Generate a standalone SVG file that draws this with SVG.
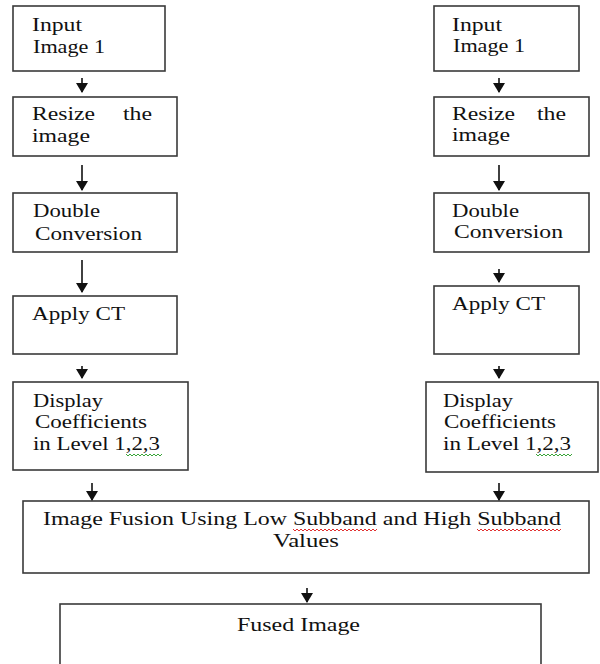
<svg xmlns="http://www.w3.org/2000/svg" width="600" height="664" viewBox="0 0 600 664">
  <style>
    .box { fill: #ffffff; stroke: #3a3a3a; stroke-width: 1.6; }
    text { font-family: Liberation Serif, Tinos, Times New Roman, serif; font-size: 19.5px; fill: #111111; }
    .link { stroke: #111111; stroke-width: 1.6; fill: none; }
    .spell-g { stroke: #3aa53a; stroke-width: 1; fill: none; }
    .spell-r { stroke: #e03030; stroke-width: 1; fill: none; }
  </style>
  <defs>
    <marker id="tip" viewBox="0 0 10 12" refX="9" refY="6" markerWidth="11" markerHeight="12" markerUnits="userSpaceOnUse" orient="auto">
      <path d="M0,0 L10,6 L0,12 Z" fill="#111111"/>
    </marker>
  </defs>

  <!-- left branch -->
  <g id="left-input">
    <rect class="box" x="13" y="6" width="152" height="65"/>
    <text x="32" y="31" textLength="50" lengthAdjust="spacingAndGlyphs">Input</text>
    <text x="33" y="53" textLength="72" lengthAdjust="spacingAndGlyphs">Image 1</text>
  </g>
  <g id="left-resize">
    <rect class="box" x="13" y="97" width="164" height="59"/>
    <text y="120"><tspan x="32" textLength="63" lengthAdjust="spacingAndGlyphs">Resize</tspan><tspan x="123" textLength="29" lengthAdjust="spacingAndGlyphs">the</tspan></text>
    <text x="32" y="142" textLength="58" lengthAdjust="spacingAndGlyphs">image</text>
  </g>
  <g id="left-double">
    <rect class="box" x="13" y="193" width="164" height="59"/>
    <text x="33" y="217" textLength="67" lengthAdjust="spacingAndGlyphs">Double</text>
    <text x="35" y="240" textLength="107" lengthAdjust="spacingAndGlyphs">Conversion</text>
  </g>
  <g id="left-ct">
    <rect class="box" x="13" y="296" width="164" height="58"/>
    <text x="32" y="320" textLength="93" lengthAdjust="spacingAndGlyphs">Apply CT</text>
  </g>
  <g id="left-coeff">
    <rect class="box" x="13" y="382" width="175" height="88"/>
    <text x="33" y="407" textLength="70" lengthAdjust="spacingAndGlyphs">Display</text>
    <text x="35" y="428" textLength="112" lengthAdjust="spacingAndGlyphs">Coefficients</text>
    <text x="33" y="450" textLength="127" lengthAdjust="spacingAndGlyphs">in Level 1,2,3</text>
    <path class="spell-g" d="M126,454 l2,2 l2,-2 l2,2 l2,-2 l2,2 l2,-2 l2,2 l2,-2 l2,2 l2,-2 l2,2 l2,-2 l2,2 l2,-2 l2,2 l2,-2 l2,2 l2,-2"/>
  </g>

  <!-- right branch -->
  <g id="right-input">
    <rect class="box" x="434" y="6" width="145" height="65"/>
    <text x="452" y="31" textLength="50" lengthAdjust="spacingAndGlyphs">Input</text>
    <text x="453" y="52" textLength="72" lengthAdjust="spacingAndGlyphs">Image 1</text>
  </g>
  <g id="right-resize">
    <rect class="box" x="434" y="97" width="155" height="59"/>
    <text y="120"><tspan x="452" textLength="63" lengthAdjust="spacingAndGlyphs">Resize</tspan><tspan x="537" textLength="29" lengthAdjust="spacingAndGlyphs">the</tspan></text>
    <text x="452" y="141" textLength="58" lengthAdjust="spacingAndGlyphs">image</text>
  </g>
  <g id="right-double">
    <rect class="box" x="434" y="193" width="155" height="59"/>
    <text x="452" y="217" textLength="67" lengthAdjust="spacingAndGlyphs">Double</text>
    <text x="454" y="238" textLength="109" lengthAdjust="spacingAndGlyphs">Conversion</text>
  </g>
  <g id="right-ct">
    <rect class="box" x="434" y="286" width="145" height="68"/>
    <text x="452" y="310" textLength="93" lengthAdjust="spacingAndGlyphs">Apply CT</text>
  </g>
  <g id="right-coeff">
    <rect class="box" x="426" y="382" width="172" height="90"/>
    <text x="443" y="407" textLength="70" lengthAdjust="spacingAndGlyphs">Display</text>
    <text x="444" y="428" textLength="112" lengthAdjust="spacingAndGlyphs">Coefficients</text>
    <text x="443" y="450" textLength="128" lengthAdjust="spacingAndGlyphs">in Level 1,2,3</text>
    <path class="spell-g" d="M536,454 l2,2 l2,-2 l2,2 l2,-2 l2,2 l2,-2 l2,2 l2,-2 l2,2 l2,-2 l2,2 l2,-2 l2,2 l2,-2 l2,2 l2,-2 l2,2 l2,-2"/>
  </g>

  <!-- merge and output -->
  <g id="fusion">
    <rect class="box" x="23" y="501" width="566" height="72"/>
    <text x="43" y="525" textLength="518" lengthAdjust="spacingAndGlyphs">Image Fusion Using Low Subband and High Subband</text>
    <text x="273" y="547" textLength="66" lengthAdjust="spacingAndGlyphs">Values</text>
    <path class="spell-r" d="M293,529 l2,2 l2,-2 l2,2 l2,-2 l2,2 l2,-2 l2,2 l2,-2 l2,2 l2,-2 l2,2 l2,-2 l2,2 l2,-2 l2,2 l2,-2 l2,2 l2,-2 l2,2 l2,-2 l2,2 l2,-2 l2,2 l2,-2 l2,2 l2,-2 l2,2 l2,-2 l2,2 l2,-2 l2,2 l2,-2 l2,2 l2,-2 l2,2 l2,-2 l2,2 l2,-2 l2,2 l2,-2 l2,2 l2,-2"/>
    <path class="spell-r" d="M477,529 l2,2 l2,-2 l2,2 l2,-2 l2,2 l2,-2 l2,2 l2,-2 l2,2 l2,-2 l2,2 l2,-2 l2,2 l2,-2 l2,2 l2,-2 l2,2 l2,-2 l2,2 l2,-2 l2,2 l2,-2 l2,2 l2,-2 l2,2 l2,-2 l2,2 l2,-2 l2,2 l2,-2 l2,2 l2,-2 l2,2 l2,-2 l2,2 l2,-2 l2,2 l2,-2 l2,2 l2,-2 l2,2 l2,-2"/>
  </g>
  <g id="fused">
    <rect class="box" x="60" y="604" width="481" height="80"/>
    <text x="237" y="631" textLength="123" lengthAdjust="spacingAndGlyphs">Fused Image</text>
  </g>

  <!-- connectors -->
  <g id="connectors">
    <line class="link" x1="82" y1="78" x2="82" y2="92" marker-end="url(#tip)"/>
    <line class="link" x1="82" y1="165" x2="82" y2="190" marker-end="url(#tip)"/>
    <line class="link" x1="82" y1="260" x2="82" y2="292" marker-end="url(#tip)"/>
    <line class="link" x1="82" y1="366" x2="82" y2="378" marker-end="url(#tip)"/>
    <line class="link" x1="92" y1="483" x2="92" y2="500" marker-end="url(#tip)"/>
    <line class="link" x1="499" y1="78" x2="499" y2="92" marker-end="url(#tip)"/>
    <line class="link" x1="499" y1="165" x2="499" y2="190" marker-end="url(#tip)"/>
    <line class="link" x1="499" y1="269" x2="499" y2="282" marker-end="url(#tip)"/>
    <line class="link" x1="499" y1="366" x2="499" y2="378" marker-end="url(#tip)"/>
    <line class="link" x1="499" y1="483" x2="499" y2="500" marker-end="url(#tip)"/>
    <line class="link" x1="307" y1="588" x2="307" y2="602" marker-end="url(#tip)"/>
  </g>
</svg>
